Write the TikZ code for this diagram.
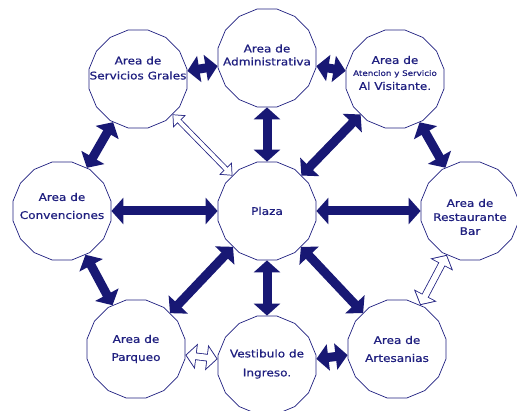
\documentclass[tikz,border=0pt]{standalone}
\usepackage{fontspec}
\setmainfont[FakeStretch=1.15,FakeBold=0.6]{DejaVu Sans}
\usetikzlibrary{arrows.meta,shapes.geometric}
\definecolor{AreaNavy}{RGB}{32,32,128}
\definecolor{ArrowNavy}{RGB}{24,24,116}
\tikzset{
  area/.style={regular polygon,regular polygon sides=16,minimum size=100pt,
    inner sep=0pt,draw=AreaNavy,line width=0.7pt,fill=white},
  areatext/.style={text=AreaNavy,align=center,font=\fontsize{10.5}{13}\selectfont},
  link/.style={{Triangle[width=26pt,length=12pt]}-{Triangle[width=26pt,length=12pt]},
    line width=9pt,draw=ArrowNavy},
  hollowlink/.style={{Triangle[width=25pt,length=11pt]}-{Triangle[width=25pt,length=11pt]},
    line width=7.5pt,draw=AreaNavy,
    postaction={draw=white,line width=5.9pt,shorten >=1.2pt,shorten <=1.2pt,
      {Triangle[width=20.6pt,length=9pt]}-{Triangle[width=20.6pt,length=9pt]}}},
  thinhollow/.style={{Triangle[width=17pt,length=10pt]}-{Triangle[width=17pt,length=10pt]},
    line width=5.5pt,draw=AreaNavy,
    postaction={draw=white,line width=3.9pt,shorten >=1.1pt,shorten <=1.1pt,
      {Triangle[width=13.4pt,length=8pt]}-{Triangle[width=13.4pt,length=8pt]}}}
}
\begin{document}
\begin{tikzpicture}[x=1pt,y=-1pt]
  \clip (0,0) rectangle (517,411);
  % areas
  \node[area,label={[areatext,yshift=11pt]center:Area de\\[2pt]Servicios Grales}] (servicios) at (138,79) {};
  \node[area,label={[areatext,yshift=3pt]center:Area de\\Administrativa}] (admin) at (267,58) {};
  \node[area,label={[areatext,yshift=6pt]center:Area de\\[-1pt]{\fontsize{7.6}{9}\selectfont Atencion y Servicio}\\[1pt]Al Visitante.}] (atencion) at (395,79) {};
  \node[area,label={[areatext,yshift=5pt]center:Area de\\[5pt]Convenciones}] (convenciones) at (62,211) {};
  \node[area,label={[areatext]center:Plaza}] (plaza) at (267,211) {};
  \node[area,label={[areatext,yshift=-6pt]center:Area de\\[1pt]Restaurante\\[1pt]Bar}] (restaurante) at (470,211) {};
  \node[area,label={[areatext]center:Area de\\[5pt]Parqueo}] (parqueo) at (136,349) {};
  \node[area,label={[areatext,yshift=1pt]center:Vestibulo de\\[6pt]Ingreso.}] (vestibulo) at (267,365) {};
  \node[area,label={[areatext]center:Area de\\[5pt]Artesanias}] (artesanias) at (397,349) {};
  % connections
  \draw[link] (servicios) -- (admin);
  \draw[link] (admin) -- (atencion);
  \draw[link] (servicios) -- (convenciones);
  \draw[link] (admin) -- (plaza);
  \draw[link] (atencion) -- (plaza);
  \draw[link] (atencion) -- (restaurante);
  \draw[link] (convenciones) -- (plaza);
  \draw[link] (plaza) -- (restaurante);
  \draw[link] (convenciones) -- (parqueo);
  \draw[link] (plaza) -- (parqueo);
  \draw[link] (plaza) -- (vestibulo);
  \draw[link] (plaza) -- (artesanias);
  \draw[link] (vestibulo) -- (artesanias);
  \draw[thinhollow] (servicios) -- (plaza);
  \draw[hollowlink] (restaurante) -- (artesanias);
  \draw[hollowlink] (parqueo) -- (vestibulo);
\end{tikzpicture}
\end{document}
